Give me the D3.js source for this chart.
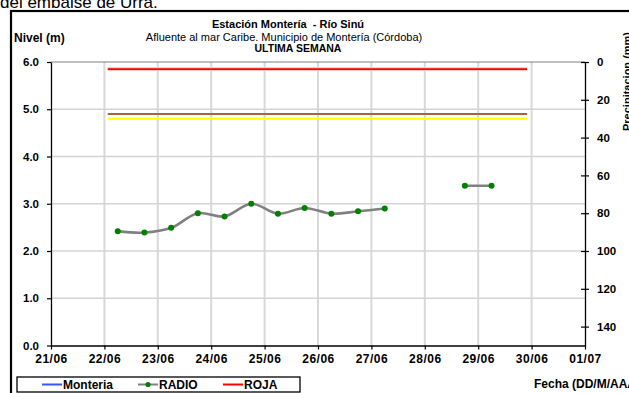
<!DOCTYPE html>
<html><head><meta charset="utf-8">
<script src="https://cdn.jsdelivr.net/npm/d3@7"></script>
<style>
html,body{margin:0;padding:0;background:#fff;overflow:hidden}
text{font-family:"Liberation Sans",Arial,sans-serif}
</style></head>
<body><svg id="c" width="629" height="393"></svg>
<script>
// ---- data ----
const xTickLabels = ["21/06","22/06","23/06","24/06","25/06","26/06","27/06","28/06","29/06","30/06","01/07"];
const xTickDates = ["2023-06-21","2023-06-22","2023-06-23","2023-06-24","2023-06-25","2023-06-26","2023-06-27","2023-06-28","2023-06-29","2023-06-30","2023-07-01"];
const yTicks = [0,1,2,3,4,5,6];
const precipTicks = [0,20,40,60,80,100,120,140];
const radioDates = ["2023-06-22T06:00","2023-06-22T18:00","2023-06-23T06:00","2023-06-23T18:00","2023-06-24T06:00","2023-06-24T18:00","2023-06-25T06:00","2023-06-25T18:00","2023-06-26T06:00","2023-06-26T18:00","2023-06-27T06:00","2023-06-27T18:00","2023-06-28T06:00","2023-06-28T18:00","2023-06-29T06:00"];
const radioValues = [2.42,2.39,2.49,2.80,2.73,3.00,2.79,2.91,2.79,2.84,2.90,null,null,3.38,3.38];
const thresholdDates = ["2023-06-22T01:30","2023-06-29T22:00"];
const rojaValue = 5.85;
const naranjaValue = 4.90;
const amarillaValue = 4.80;
const legendItems = ["Monteria","RADIO","ROJA"];

// ---- drawing ----
const svg = d3.select("#c");
const P = d => new Date(d + (d.length===10 ? "T00:00" : ""));
const L = 51, R = 585, T = 62, B = 345.5;
const x = d3.scaleTime().domain([P(xTickDates[0]), P(xTickDates[xTickDates.length-1])]).range([L, R]);
const y = d3.scaleLinear().domain([0,6]).range([B, T]);
const yr = d3.scaleLinear().domain([0,150]).range([T, B]);

// top cut text
svg.append("text").attr("x",0).attr("y",7.5).attr("font-size",17).attr("fill","#000").text("del embalse de Urrá.");
// outer frame
svg.append("rect").attr("x",11).attr("y",11).attr("width",800).attr("height",600)
  .attr("fill","none").attr("stroke","#000").attr("stroke-width",2.2);

// gridlines
const g = svg.append("g");
xTickDates.slice(1,-1).forEach(d=>{
  g.append("line").attr("x1",x(P(d))).attr("x2",x(P(d))).attr("y1",T).attr("y2",B)
   .attr("stroke","#d8d8d8").attr("stroke-width",2);
});
yTicks.slice(1,-1).forEach(v=>{
  g.append("line").attr("x1",L).attr("x2",R).attr("y1",y(v)).attr("y2",y(v))
   .attr("stroke","#d4d4d4").attr("stroke-width",1.6);
});
// top border of plot
svg.append("line").attr("x1",L).attr("x2",R).attr("y1",T).attr("y2",T).attr("stroke","#808080").attr("stroke-width",1.2);

// thresholds
const th = thresholdDates.map(P);
function hline(v,color,w){
  svg.append("line").attr("x1",x(th[0])).attr("x2",x(th[1])).attr("y1",y(v)).attr("y2",y(v))
    .attr("stroke",color).attr("stroke-width",w);
}
hline(rojaValue,"#ffc8c8",4);
hline(rojaValue,"#ff0000",1.8);
hline(naranjaValue,"#a0693a",1.8);
hline(amarillaValue,"#ffff00",2);

// radio series
const radio = radioDates.map((d,i)=>({t:P(d), v:radioValues[i]}));
const line = d3.line().defined(d=>d.v!=null).x(d=>x(d.t)).y(d=>y(d.v)).curve(d3.curveCatmullRom.alpha(0.5));
svg.append("path").datum(radio).attr("d",line).attr("fill","none").attr("stroke","#808080").attr("stroke-width",2.6);
svg.selectAll("circle.pt").data(radio.filter(d=>d.v!=null)).join("circle")
  .attr("cx",d=>x(d.t)).attr("cy",d=>y(d.v)).attr("r",3).attr("fill","#008000");

// axes
const ax = svg.append("g").attr("transform",`translate(0,${B})`)
  .call(d3.axisBottom(x).tickValues(xTickDates.map(P)).tickFormat((d,i)=>xTickLabels[i]).tickSize(4).tickSizeOuter(0).tickPadding(5));
const ay = svg.append("g").attr("transform",`translate(${L},0)`)
  .call(d3.axisLeft(y).tickValues(yTicks).tickFormat(d3.format(".1f")).tickSize(4).tickSizeOuter(0).tickPadding(8));
const ar = svg.append("g").attr("transform",`translate(${R},0)`)
  .call(d3.axisRight(yr).tickValues(precipTicks).tickSize(4).tickSizeOuter(0).tickPadding(8));
ar.selectAll(".tick line").attr("x1",-4);
[ax,ay,ar].forEach(a=>{
  a.selectAll(".domain").attr("stroke","#000").attr("stroke-width",1.3);
  a.selectAll(".tick line").attr("stroke","#000").attr("stroke-width",1.2);
  a.selectAll("text").attr("font-family","Liberation Sans, Arial, sans-serif").attr("font-weight","bold").attr("fill","#000");
});
ax.selectAll("text").attr("font-size",12).attr("letter-spacing","0.5px");
ay.selectAll("text").attr("font-size",11.5);
ar.selectAll("text").attr("font-size",11.5);

// titles
const tt = (xx,yy,txt,size,weight,anchor)=>svg.append("text").attr("x",xx).attr("y",yy).attr("font-size",size)
  .attr("font-weight",weight).attr("text-anchor",anchor||"middle").attr("fill","#000").text(txt);
tt(288,27.5,"Estación Montería  - Río Sinú",11,"bold").style("white-space","pre");
tt(284,40.5,"Afluente al mar Caribe. Municipio de Montería (Córdoba)",11,"normal");
tt(298,52,"ULTIMA SEMANA",10.5,"bold");
tt(14,42,"Nivel (m)",12,"bold","start");
svg.append("text").attr("transform","translate(631,131) rotate(-90)").attr("font-size",11).attr("font-weight","bold")
  .attr("fill","#000").text("Precipitacion (mm)");
tt(534,388,"Fecha (DD/M/AAAA)",12,"bold","start");

// legend
svg.append("rect").attr("x",17).attr("y",377).attr("width",283).attr("height",15)
  .attr("fill","#fff").attr("stroke","#000").attr("stroke-width",1.3);
const lg = [
  {x:42, color:"#3355ff", dot:false},
  {x:138, color:"#808080", dot:true},
  {x:223, color:"#ff0000", dot:false}
];
lg.forEach((o,i)=>{
  svg.append("line").attr("x1",o.x).attr("x2",o.x+20).attr("y1",384.5).attr("y2",384.5).attr("stroke",o.color).attr("stroke-width",2);
  if(o.dot) svg.append("circle").attr("cx",o.x+10).attr("cy",384.5).attr("r",2.6).attr("fill","#008000");
  tt(o.x+21,389,legendItems[i],12,"bold","start");
});
</script></body></html>
